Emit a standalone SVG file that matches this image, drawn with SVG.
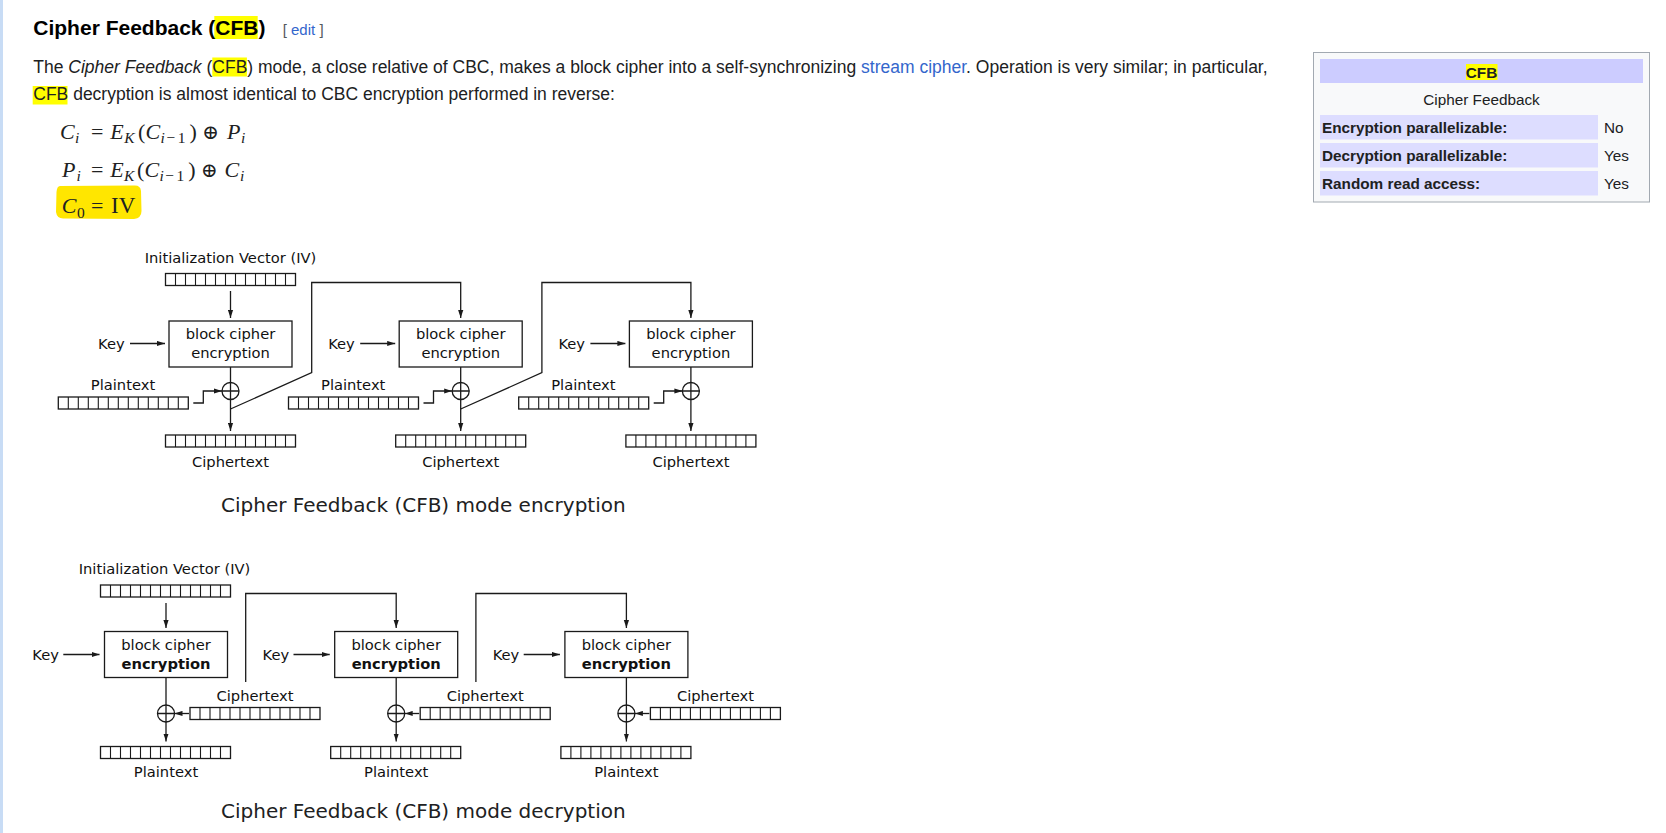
<svg xmlns="http://www.w3.org/2000/svg" width="1666" height="833" viewBox="0 0 1666 833">
<style>
.body{font-family:"Liberation Sans",Arial,sans-serif;font-size:17.5px;fill:#202122}
.h3{font-family:"Liberation Sans",Arial,sans-serif;font-size:21px;font-weight:bold;fill:#000}
.edit{font-family:"Liberation Sans",Arial,sans-serif;font-size:15px;fill:#54595d}
.link{fill:#3366cc}
.hl{fill:#ffff00}
.math{font-family:"Liberation Serif","DejaVu Serif",serif;font-size:22px;fill:#202122}
.mi{font-style:italic}
.sub{font-size:15.5px}
.op{font-family:"DejaVu Serif","Liberation Serif",serif;font-size:20px}
.ib{font-family:"Liberation Sans",Arial,sans-serif;font-size:15.3px;fill:#202122}
.ibb{font-weight:bold}
.lbl{font-family:"DejaVu Sans",sans-serif;font-size:14.7px;fill:#111}
.mid{text-anchor:middle}
.bold{font-weight:bold}
.cap{font-family:"DejaVu Sans",sans-serif;font-size:20px;fill:#202122}
.ln{fill:none;stroke:#1a1a1a;stroke-width:1.3}
.arr{marker-end:url(#ah)}
.box{fill:#fff;stroke:#1a1a1a;stroke-width:1.3}
</style>
<defs>
<marker id="ah" markerUnits="userSpaceOnUse" markerWidth="8" markerHeight="6" viewBox="0 0 8 6" refX="8" refY="3" orient="auto"><path d="M0,0.4 L8,3 L0,5.6 z" fill="#1a1a1a"/></marker>
<g id="reg"><rect x="0" y="0" width="130" height="12" fill="#fff" stroke="#1a1a1a" stroke-width="1.3"/><path d="M10,0v12M20,0v12M30,0v12M40,0v12M50,0v12M60,0v12M70,0v12M80,0v12M90,0v12M100,0v12M110,0v12M120,0v12" stroke="#1a1a1a" stroke-width="1.1"/></g>
<g id="xor"><circle r="8.5" fill="#fff" stroke="#1a1a1a" stroke-width="1.3"/><path d="M-8.5,0H8.5M0,-8.5V8.5" stroke="#1a1a1a" stroke-width="1.3"/></g>
</defs>
<rect x="0" y="0" width="1666" height="833" fill="#fff"/>
<rect x="0" y="0" width="3" height="833" fill="#c8dcf5"/>

<g id="heading">
<rect x="214.3" y="16" width="43.4" height="23" class="hl"/>
<text x="33.3" y="35" class="h3">Cipher Feedback (CFB)</text>
<text x="282.7" y="35" class="edit">[ <tspan class="link">edit</tspan> ]</text>
</g>

<g id="paragraph">
<rect x="212.3" y="57.5" width="34.6" height="19" class="hl"/>
<rect x="32.7" y="86" width="34.8" height="18.5" class="hl"/>
<text x="33.3" y="72.7" class="body">The <tspan font-style="italic">Cipher Feedback</tspan> (CFB) mode, a close relative of CBC, makes a block cipher into a self-synchronizing <tspan class="link">stream cipher</tspan>. Operation is very similar; in particular,</text>
<text x="33.3" y="100" class="body">CFB decryption is almost identical to CBC encryption performed in reverse:</text>
</g>

<g id="formulas">
<path d="M60,186 Q57,186 56.5,192 L56,212 Q57,219 64,218.5 L134,219 Q141.5,218 141.5,211 L141,191 Q140.5,185 134,185.5 Z" fill="#ffe600"/>
<text class="math" y="138.5"><tspan x="60" class="mi">C</tspan><tspan x="75" y="143" class="mi sub">i</tspan><tspan x="91" y="138.5">=</tspan><tspan x="110.3" class="mi">E</tspan><tspan x="124.2" y="143" class="mi sub">K</tspan><tspan x="138.1" y="138.5">(</tspan><tspan x="145.6" class="mi">C</tspan><tspan x="160.6" y="143" class="mi sub">i</tspan><tspan x="166.5" class="sub">−</tspan><tspan x="177.7" class="sub">1</tspan><tspan x="189.5" y="138.5">)</tspan><tspan x="202.3" class="op">⊕</tspan><tspan x="226.9" class="mi">P</tspan><tspan x="241" y="143" class="mi sub">i</tspan></text>
<text class="math" y="176.5"><tspan x="62" class="mi">P</tspan><tspan x="76.4" y="181" class="mi sub">i</tspan><tspan x="90.9" y="176.5">=</tspan><tspan x="110.2" class="mi">E</tspan><tspan x="124.1" y="181" class="mi sub">K</tspan><tspan x="136.9" y="176.5">(</tspan><tspan x="144.4" class="mi">C</tspan><tspan x="159.4" y="181" class="mi sub">i</tspan><tspan x="165.3" class="sub">−</tspan><tspan x="176.5" class="sub">1</tspan><tspan x="188.3" y="176.5">)</tspan><tspan x="201.1" class="op">⊕</tspan><tspan x="224.6" class="mi">C</tspan><tspan x="240" y="181" class="mi sub">i</tspan></text>
<text class="math" y="213"><tspan x="61.7" class="mi">C</tspan><tspan x="77" y="217.5" class="sub">0</tspan><tspan x="91" y="213">=</tspan><tspan x="111" font-size="23">IV</tspan></text>
</g>

<g id="infobox">
<rect x="1313.5" y="52.5" width="336" height="149.5" fill="#f8f9fa" stroke="#a2a9b1" stroke-width="1"/>
<rect x="1320" y="59" width="323" height="24" fill="#ccccff"/>
<rect x="1466" y="64" width="31.5" height="16" class="hl"/>
<text x="1481.5" y="77.5" class="ib ibb mid">CFB</text>
<text x="1481.5" y="105" class="ib mid">Cipher Feedback</text>
<rect x="1320" y="115" width="278" height="24.5" fill="#ddddff"/>
<rect x="1320" y="143" width="278" height="24.5" fill="#ddddff"/>
<rect x="1320" y="171" width="278" height="24.5" fill="#ddddff"/>
<text x="1322" y="133" class="ib ibb">Encryption parallelizable:</text>
<text x="1322" y="161" class="ib ibb">Decryption parallelizable:</text>
<text x="1322" y="189" class="ib ibb">Random read access:</text>
<text x="1604" y="133" class="ib">No</text>
<text x="1604" y="161" class="ib">Yes</text>
<text x="1604" y="189" class="ib">Yes</text>
</g>

<g id="enc-connectors">
<path class="ln arr" d="M230.5,291V318"/>
<path class="ln arr" d="M130,343.5H165"/>
<path class="ln arr" d="M360.2,343.5H395.2"/>
<path class="ln arr" d="M590.4,343.5H625.4"/>
<path class="ln" d="M230.5,367V382.5M460.7,367V382.5M690.9,367V382.5"/>
<path class="ln arr" d="M230.5,399.5V431"/>
<path class="ln arr" d="M460.7,399.5V431"/>
<path class="ln arr" d="M690.9,399.5V431"/>
<path class="ln arr" d="M193.3,403H203.3V391H222"/>
<path class="ln arr" d="M423.5,403H433.5V391H452.2"/>
<path class="ln arr" d="M653.7,403H663.7V391H682.4"/>
<path class="ln arr" d="M230.5,409L311.7,372.7V282.5H460.7V318"/>
<path class="ln arr" d="M460.7,409L541.9,372.7V282.5H690.9V318"/>
</g>

<g id="enc-iv">
<text x="230.5" y="263" class="lbl mid">Initialization Vector (IV)</text>
<use href="#reg" x="165.5" y="273.5"/>
</g>
<g id="enc-stage-1">
<rect x="169" y="321" width="123" height="46" class="box"/>
<text x="230.5" y="338.5" class="lbl mid">block cipher</text>
<text x="230.5" y="357.5" class="lbl mid">encryption</text>
<text x="98" y="348.5" class="lbl">Key</text>
<use href="#xor" x="230.5" y="391"/>
<text x="123" y="390" class="lbl mid">Plaintext</text>
<use href="#reg" x="58.3" y="397"/>
<use href="#reg" x="165.5" y="435"/>
<text x="230.5" y="466.5" class="lbl mid">Ciphertext</text>
</g>
<g id="enc-stage-2">
<rect x="399.2" y="321" width="123" height="46" class="box"/>
<text x="460.7" y="338.5" class="lbl mid">block cipher</text>
<text x="460.7" y="357.5" class="lbl mid">encryption</text>
<text x="328.2" y="348.5" class="lbl">Key</text>
<use href="#xor" x="460.7" y="391"/>
<text x="353.2" y="390" class="lbl mid">Plaintext</text>
<use href="#reg" x="288.5" y="397"/>
<use href="#reg" x="395.7" y="435"/>
<text x="460.7" y="466.5" class="lbl mid">Ciphertext</text>
</g>
<g id="enc-stage-3">
<rect x="629.4" y="321" width="123" height="46" class="box"/>
<text x="690.9" y="338.5" class="lbl mid">block cipher</text>
<text x="690.9" y="357.5" class="lbl mid">encryption</text>
<text x="558.4" y="348.5" class="lbl">Key</text>
<use href="#xor" x="690.9" y="391"/>
<text x="583.4" y="390" class="lbl mid">Plaintext</text>
<use href="#reg" x="518.7" y="397"/>
<use href="#reg" x="625.9" y="435"/>
<text x="690.9" y="466.5" class="lbl mid">Ciphertext</text>
</g>
<text id="enc-caption" x="221" y="511.7" class="cap">Cipher Feedback (CFB) mode encryption</text>

<g id="dec-connectors">
<path class="ln arr" d="M166,603V628"/>
<path class="ln arr" d="M63.3,654.5H99.5"/>
<path class="ln arr" d="M293.5,654.5H329.7"/>
<path class="ln arr" d="M523.7,654.5H559.9"/>
<path class="ln" d="M166,677.5V705M396.2,677.5V705M626.4,677.5V705"/>
<path class="ln arr" d="M189,713.5H174.5"/>
<path class="ln arr" d="M419.2,713.5H404.7"/>
<path class="ln arr" d="M649.4,713.5H634.9"/>
<path class="ln arr" d="M166,722V741.5"/>
<path class="ln arr" d="M396.2,722V741.5"/>
<path class="ln arr" d="M626.4,722V741.5"/>
<path class="ln arr" d="M245.7,682V593.5H396.2V628"/>
<path class="ln arr" d="M475.9,682V593.5H626.4V628"/>
</g>

<g id="dec-iv">
<text x="164.5" y="574" class="lbl mid">Initialization Vector (IV)</text>
<use href="#reg" x="100.5" y="585"/>
</g>
<g id="dec-stage-1">
<rect x="104.5" y="631.5" width="123" height="46" class="box"/>
<text x="166" y="649.5" class="lbl mid">block cipher</text>
<text x="166" y="668.5" class="lbl mid bold">encryption</text>
<text x="32.3" y="660" class="lbl">Key</text>
<use href="#xor" x="166" y="713.5"/>
<text x="255" y="700.7" class="lbl mid">Ciphertext</text>
<use href="#reg" x="190" y="707.5"/>
<use href="#reg" x="100.5" y="746.5"/>
<text x="166" y="776.7" class="lbl mid">Plaintext</text>
</g>
<g id="dec-stage-2">
<rect x="334.7" y="631.5" width="123" height="46" class="box"/>
<text x="396.2" y="649.5" class="lbl mid">block cipher</text>
<text x="396.2" y="668.5" class="lbl mid bold">encryption</text>
<text x="262.5" y="660" class="lbl">Key</text>
<use href="#xor" x="396.2" y="713.5"/>
<text x="485.2" y="700.7" class="lbl mid">Ciphertext</text>
<use href="#reg" x="420.2" y="707.5"/>
<use href="#reg" x="330.7" y="746.5"/>
<text x="396.2" y="776.7" class="lbl mid">Plaintext</text>
</g>
<g id="dec-stage-3">
<rect x="564.9" y="631.5" width="123" height="46" class="box"/>
<text x="626.4" y="649.5" class="lbl mid">block cipher</text>
<text x="626.4" y="668.5" class="lbl mid bold">encryption</text>
<text x="492.7" y="660" class="lbl">Key</text>
<use href="#xor" x="626.4" y="713.5"/>
<text x="715.4" y="700.7" class="lbl mid">Ciphertext</text>
<use href="#reg" x="650.4" y="707.5"/>
<use href="#reg" x="560.9" y="746.5"/>
<text x="626.4" y="776.7" class="lbl mid">Plaintext</text>
</g>
<text id="dec-caption" x="221" y="818" class="cap">Cipher Feedback (CFB) mode decryption</text>
</svg>
